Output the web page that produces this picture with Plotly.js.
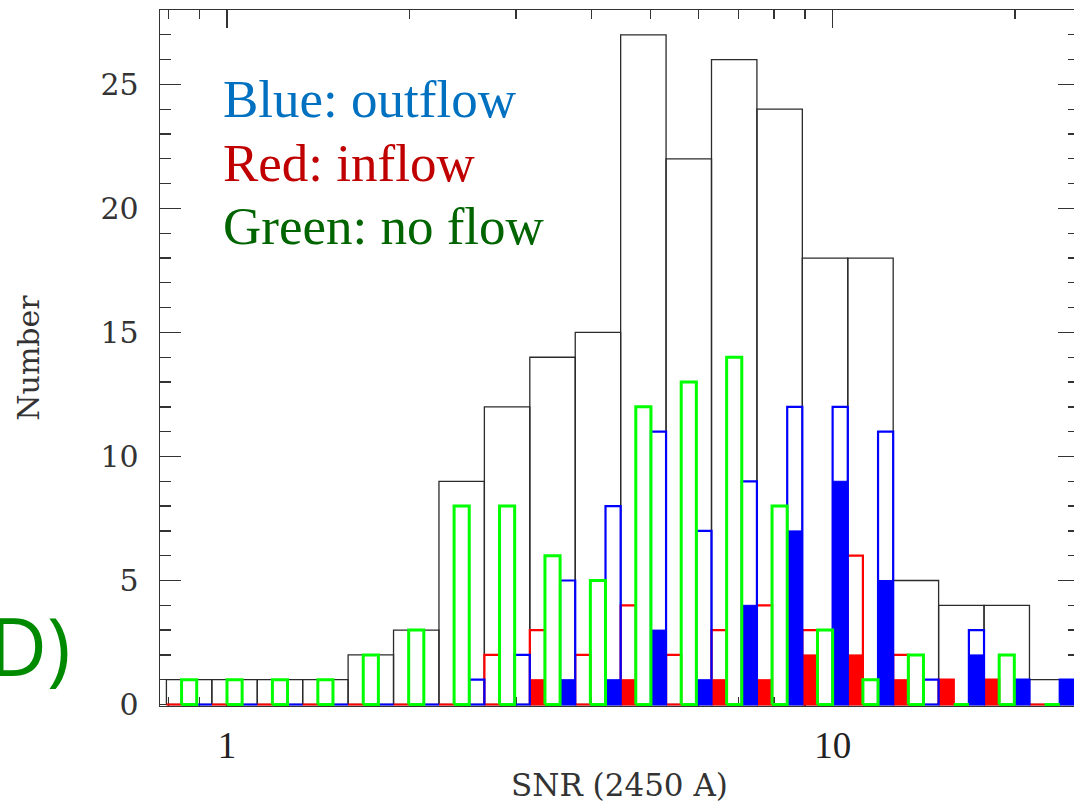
<!DOCTYPE html>
<html>
<head>
<meta charset="utf-8">
<script src="https://cdn.plot.ly/plotly-3.0.1.min.js"></script>
<style>
  html, body { margin: 0; padding: 0; background: #fff; overflow: hidden; }
  #chart { width: 1082px; height: 803px; }
</style>
</head>
<body>
<div id="chart"></div>
<script>
// Histogram bin edges in SNR (equal steps of 0.075 dex)
const binEdges = [0.7943, 0.9441, 1.1220, 1.3335, 1.5849, 1.8836, 2.2387, 2.6607,
                  3.1623, 3.7584, 4.4668, 5.3088, 6.3096, 7.4989, 8.9125, 10.5925,
                  12.5893, 14.9624, 17.7828, 21.1349, 25.1189];

// Counts per bin
const totalCounts   = [1, 1, 1, 1, 2, 3, 9, 12, 14, 15, 27, 22, 26, 24, 18, 18, 5, 4, 4, 1];
const inflowAll     = [0, 0, 0, 0, 0, 0, 0, 2, 3, 2, 4, 2, 3, 4, 3, 6, 2, 1, 1, 0];
const inflowFilled  = [0, 0, 0, 0, 0, 0, 0, 0, 1, 0, 1, 0, 1, 1, 2, 2, 1, 1, 1, 0];
const noflowAll     = [1, 1, 1, 1, 2, 3, 8, 8, 6, 5, 12, 13, 14, 8, 3, 1, 2, 0, 2, 0];
const outflowAll    = [0, 0, 0, 0, 0, 0, 1, 2, 5, 8, 11, 7, 9, 12, 12, 11, 1, 3, 1, 1];
const outflowFilled = [0, 0, 0, 0, 0, 0, 0, 0, 1, 1, 3, 1, 4, 7, 9, 5, 0, 2, 1, 1];

// Axis ticks
const xMajorTicks = [1, 10];
const xMajorText  = ['1', '10'];
const xMinorTicks = [0.8, 0.9, 2, 3, 4, 5, 6, 7, 8, 9, 20];

// Legend-style labels
const labelTexts  = ['Blue: outflow', 'Red: inflow', 'Green: no flow'];
const labelColors = ['#0070c0', '#c00000', '#006400'];
const panelLabel  = 'D)';

// Edge of a sub-column inside bin i: the bin is split into thirds in log space.
function subEdge(i, frac) {
  const a = Math.log10(binEdges[i]), b = Math.log10(binEdges[i + 1]);
  return Math.pow(10, a + (b - a) * frac);
}

// Build rectangle outlines (null-separated) for each bin.
// slot = null -> full bin, otherwise 0/1/2 -> third of the bin.
function rects(values, slot, skipZero) {
  const xs = [], ys = [];
  values.forEach((h, i) => {
    if (skipZero && h === 0) return;
    const x0 = slot === null ? binEdges[i] : subEdge(i, slot / 3);
    const x1 = slot === null ? binEdges[i + 1] : subEdge(i, (slot + 1) / 3);
    xs.push(x0, x0, x1, x1, x0, null);
    ys.push(0, h, h, 0, 0, null);
  });
  return { x: xs, y: ys };
}

function outlineTrace(values, slot, color, width) {
  const r = rects(values, slot, false);
  return { type: 'scatter', mode: 'lines', x: r.x, y: r.y,
           line: { color: color, width: width }, hoverinfo: 'skip' };
}
function filledTrace(values, slot, color) {
  const r = rects(values, slot, true);
  return { type: 'scatter', mode: 'lines', x: r.x, y: r.y, fill: 'toself',
           fillcolor: color, line: { color: color, width: 1 }, hoverinfo: 'skip' };
}

const traces = [
  outlineTrace(totalCounts, null, '#2b2b2b', 1.3),
  filledTrace(inflowFilled, 0, '#ff0000'),
  outlineTrace(inflowAll, 0, '#ff0000', 2.2),
  filledTrace(outflowFilled, 2, '#0000ff'),
  outlineTrace(outflowAll, 2, '#0000ff', 2.2),
  outlineTrace(noflowAll, 1, '#00ff00', 3)
];

const axisColor = '#333333';
const annotations = labelTexts.map((t, k) => ({
  text: t, xref: 'paper', yref: 'paper',
  x: 0.066, y: [0.8721, 0.7802, 0.6897][k],
  xanchor: 'left', yanchor: 'middle', showarrow: false,
  font: { family: 'Liberation Serif, serif', size: 53, color: labelColors[k] }
}));
annotations.push({
  text: panelLabel, xref: 'paper', yref: 'paper', x: -0.141, y: 0.0885,
  xanchor: 'center', yanchor: 'middle', showarrow: false,
  font: { family: 'Open Sans, sans-serif', size: 80, color: '#008a00' }
});

const layout = {
  width: 1082, height: 803,
  margin: { l: 160, r: 3, t: 10, b: 97 },
  paper_bgcolor: '#ffffff', plot_bgcolor: '#ffffff',
  showlegend: false, hovermode: false,
  xaxis: {
    type: 'log', range: [-0.1106, 1.4068],
    tickmode: 'array', tickvals: xMajorTicks, ticktext: xMajorText,
    ticks: 'inside', ticklen: 18, tickwidth: 1.3, tickcolor: axisColor,
    minor: { tickmode: 'array', tickvals: xMinorTicks, ticks: 'inside', ticklen: 9,
             tickwidth: 1.3, tickcolor: axisColor },
    showline: true, linecolor: axisColor, linewidth: 1.3, mirror: 'allticks',
    showgrid: false, zeroline: false, layer: 'below traces',
    ticklabelstandoff: 6,
    tickfont: { family: 'Liberation Serif, serif', size: 37, color: '#222' },
    title: { text: 'SNR (2450 A)', standoff: 18,
             font: { family: 'DejaVu Serif, serif', size: 31, color: '#333' } }
  },
  yaxis: {
    range: [-0.06, 28], tickmode: 'linear', tick0: 0, dtick: 5,
    ticks: 'inside', ticklen: 21, tickwidth: 1.3, tickcolor: axisColor,
    minor: { dtick: 1, ticks: 'inside', ticklen: 11, tickwidth: 1.3, tickcolor: axisColor },
    showline: true, linecolor: axisColor, linewidth: 1.3, mirror: 'allticks',
    showgrid: false, zeroline: false, layer: 'below traces',
    ticklabelstandoff: 14,
    tickfont: { family: 'DejaVu Serif, serif', size: 30, color: '#333' },
    title: { text: 'Number', standoff: 52,
             font: { family: 'DejaVu Serif, serif', size: 30, color: '#333' } }
  },
  annotations: annotations
};

Plotly.newPlot('chart', traces, layout, { displayModeBar: false, staticPlot: true });
</script>
</body>
</html>
